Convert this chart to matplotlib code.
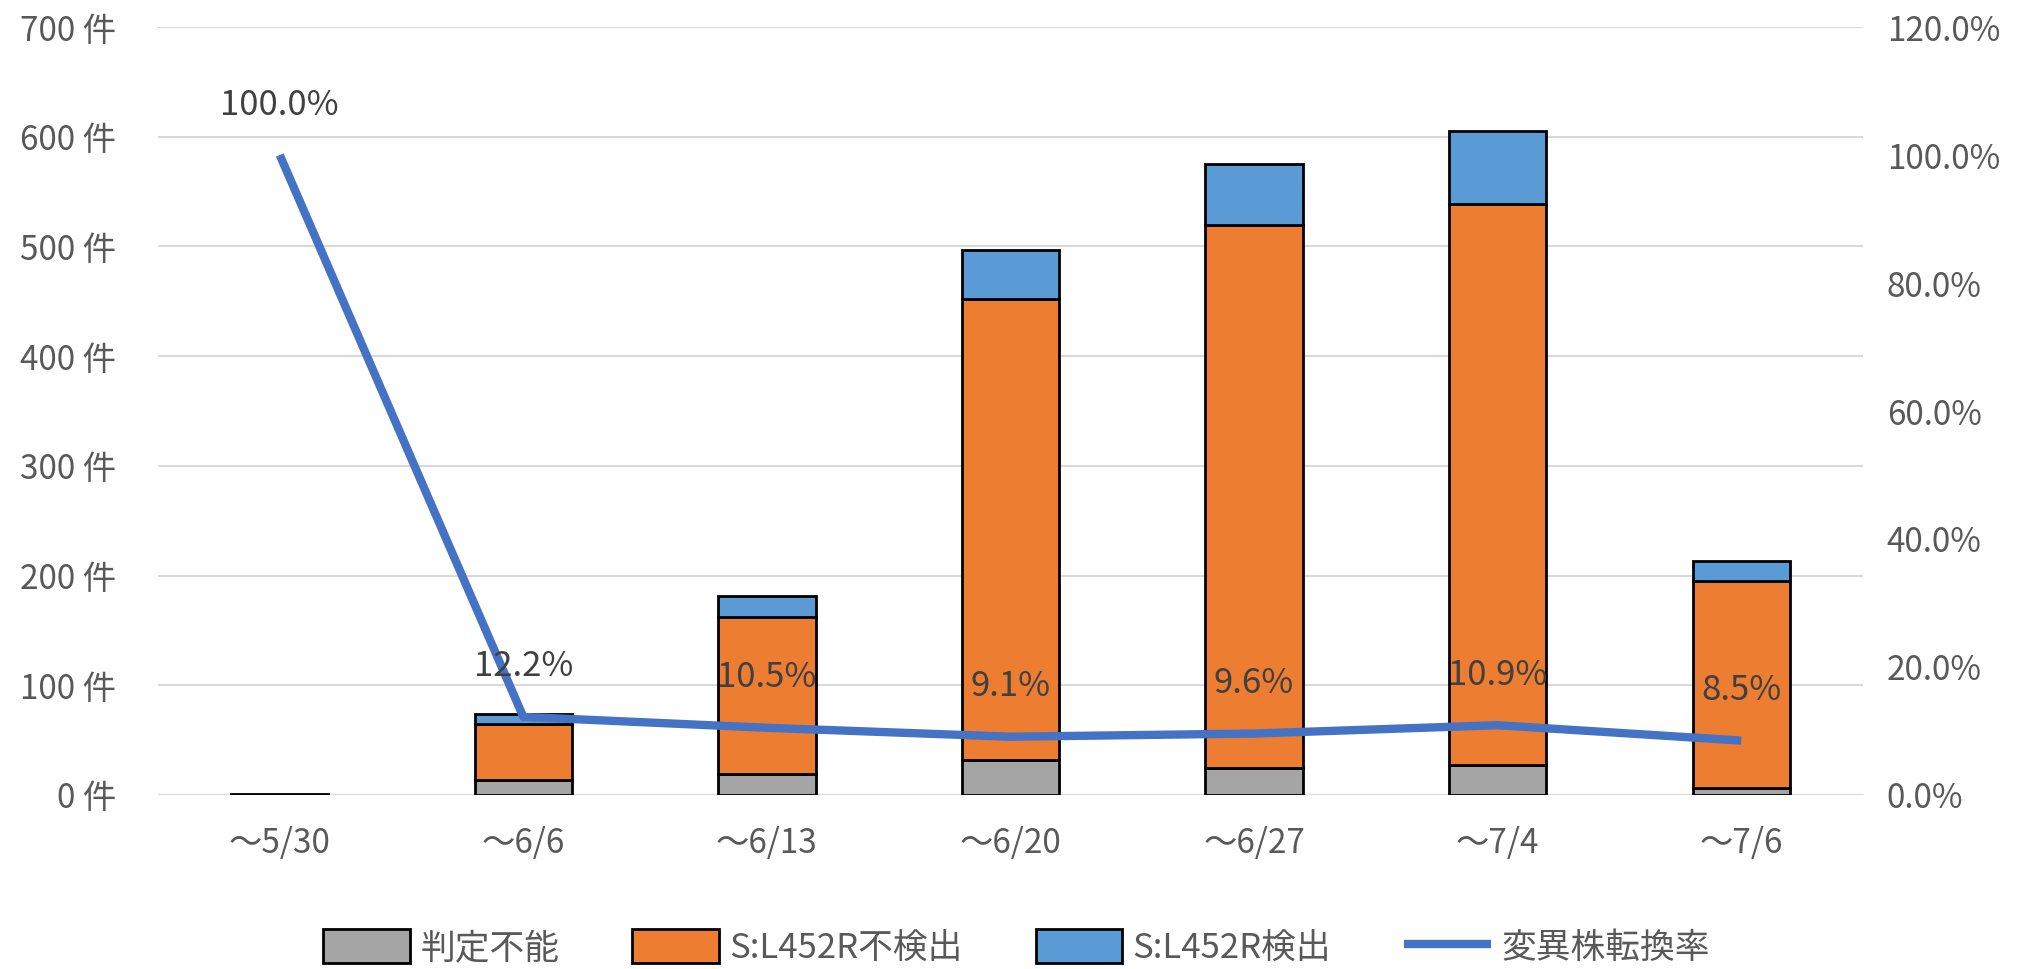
import numpy as np
import matplotlib
matplotlib.use("Agg")
import matplotlib.pyplot as plt
from matplotlib.ticker import FuncFormatter, MultipleLocator

plt.rcParams['font.family'] = ['Noto Sans CJK JP', 'DejaVu Sans']

# weekly counts
weeks       = ["～5/30", "～6/6", "～6/13", "～6/20", "～6/27", "～7/4", "～7/6"]
undetermined = [0, 14, 19, 32, 25, 27, 6]       # 判定不能
not_detected = [0, 51, 143, 420, 495, 512, 189]  # S:L452R不検出
detected     = [1, 9, 19, 45, 55, 66, 18]        # S:L452R検出
rate_pct     = [100.0, 12.2, 10.5, 9.1, 9.6, 10.9, 8.5]  # 変異株転換率

TEXT = "#595959"
GRID = "#d9d9d9"
C_GRAY, C_ORANGE, C_BLUE, C_LINE = "#A5A5A5", "#ED7D31", "#5B9BD5", "#4472C4"
FS = 24

fig = plt.figure(figsize=(20.33, 9.69), dpi=100)
ax = fig.add_axes([0.0777, 0.1796, 0.8387, 0.7925])
ax2 = ax.twinx()

x = np.arange(len(weeks))
w = 0.40
und = np.array(undetermined)
nd = np.array(not_detected)
det = np.array(detected)

kw = dict(width=w, edgecolor="black", linewidth=2.0, zorder=2)
b1 = ax.bar(x, und, color=C_GRAY, label="判定不能", **kw)
b2 = ax.bar(x, nd, bottom=und, color=C_ORANGE, label="S:L452R不検出", **kw)
b3 = ax.bar(x, det, bottom=und + nd, color=C_BLUE, label="S:L452R検出", **kw)

ax.set_ylim(0, 700)
ax.set_xlim(-0.5, len(weeks) - 0.5)
ax.yaxis.set_major_locator(MultipleLocator(100))
ax.yaxis.set_major_formatter(FuncFormatter(lambda v, p: f"{int(v)} 件"))
ax.grid(axis="y", color=GRID, linewidth=1.5, zorder=0)
ax.set_axisbelow(True)
ax.set_xticks(x)
ax.set_xticklabels(weeks)

rate = np.array(rate_pct) / 100
ln, = ax2.plot(x, rate, color=C_LINE, linewidth=6, solid_capstyle="butt",
               label="変異株転換率", zorder=5)
ax2.set_ylim(0, 1.2)
ax2.yaxis.set_major_locator(MultipleLocator(0.2))
ax2.yaxis.set_major_formatter(FuncFormatter(lambda v, p: f"{v*100:.1f}%"))

for xi, r, rp in zip(x, rate, rate_pct):
    ax2.annotate(f"{rp:.1f}%", (xi, r), xytext=(0, 36), textcoords="offset points",
                 ha="center", va="center", fontsize=FS + 1, color="#404040", zorder=6)

for a in (ax, ax2):
    for s in a.spines.values():
        s.set_visible(False)
    a.tick_params(length=0, labelsize=FS, labelcolor=TEXT)
ax.tick_params(axis="y", pad=30)
ax.tick_params(axis="x", pad=22)
ax2.tick_params(axis="y", pad=17)

ax.set_zorder(1)
ax2.set_zorder(2)
ax2.patch.set_visible(False)

fig.legend(handles=[b1, b2, b3, ln], loc="center", bbox_to_anchor=(0.5, 0.022),
           ncol=4, frameon=False, fontsize=FS + 1, labelcolor=TEXT,
           handlelength=2.5, handleheight=1.1, columnspacing=2.1, handletextpad=0.3)

fig.savefig("out.png", dpi=100)
